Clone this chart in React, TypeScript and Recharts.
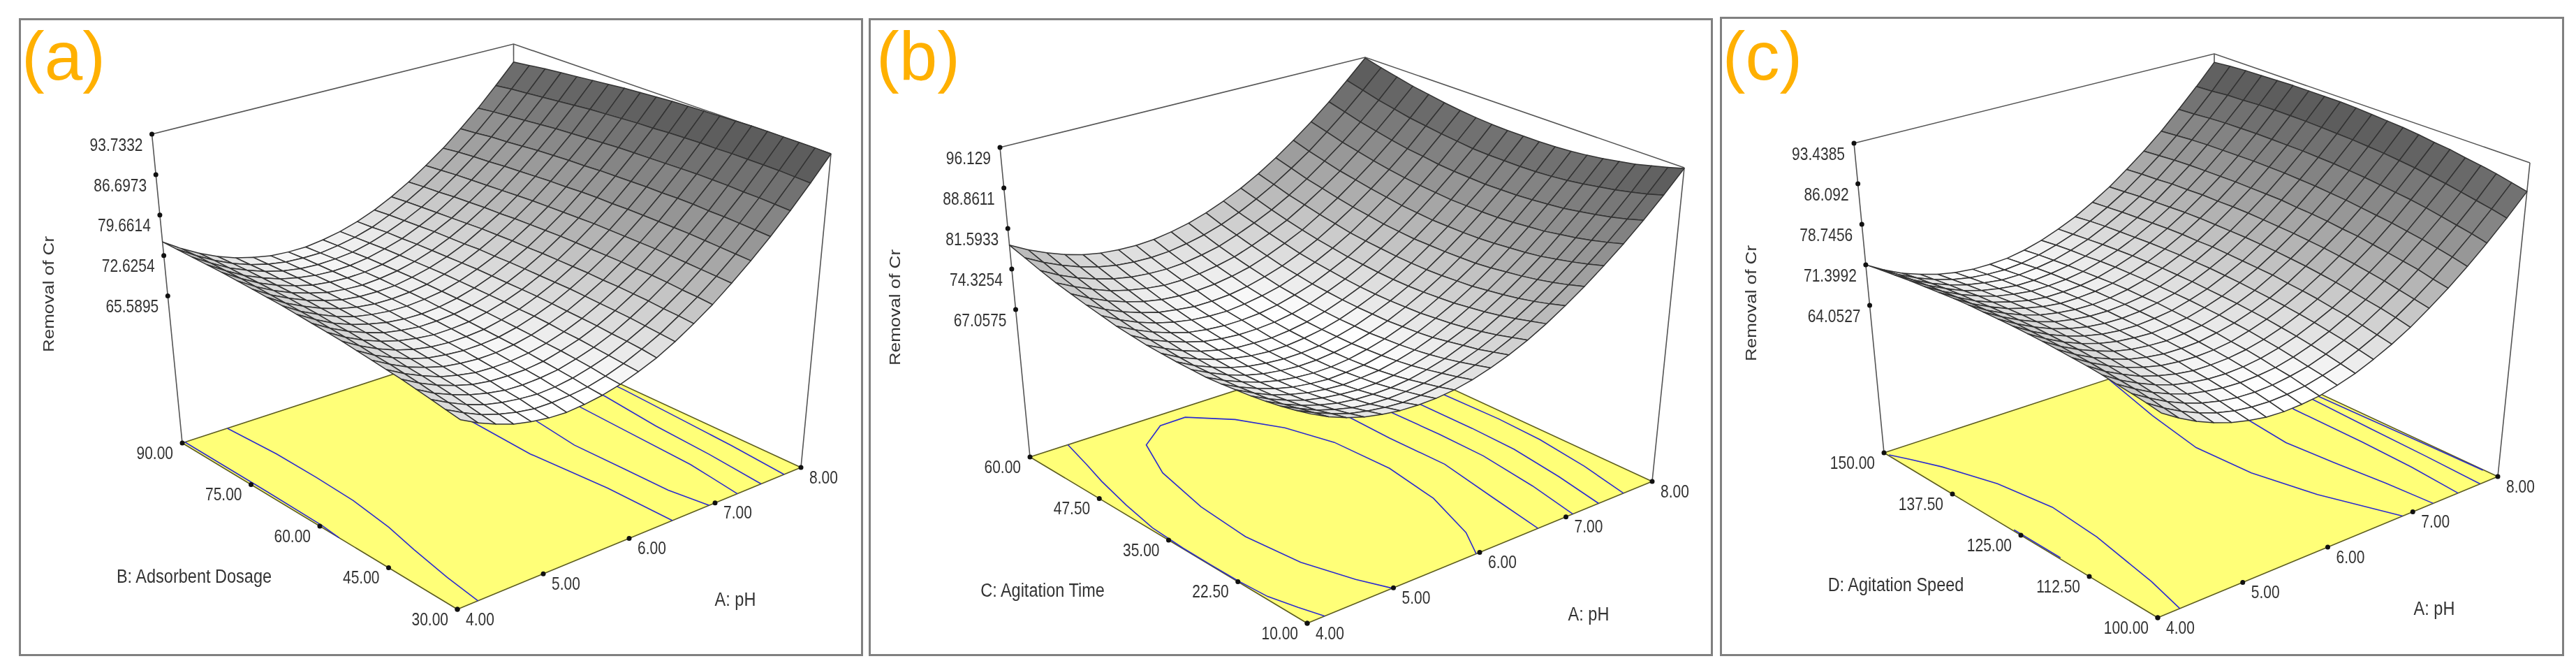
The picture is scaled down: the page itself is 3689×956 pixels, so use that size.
import { Fragment } from "react";
import { Scatter, ScatterChart, XAxis, YAxis } from "recharts";

const PAGE_W = 3689;
const PAGE_H = 956;

const phTicks = ["4.00", "5.00", "6.00", "7.00", "8.00"];
const dosageTicks = ["30.00", "45.00", "60.00", "75.00", "90.00"];
const timeTicks = ["10.00", "22.50", "35.00", "47.50", "60.00"];
const speedTicks = ["100.00", "112.50", "125.00", "137.50", "150.00"];
const removalTicksA = ["65.5895", "72.6254", "79.6614", "86.6973", "93.7332"];
const removalTicksB = ["67.0575", "74.3254", "81.5933", "88.8611", "96.129"];
const removalTicksC = ["64.0527", "71.3992", "78.7456", "86.092", "93.4385"];

// rows = factor low -> high, columns = pH 4 -> 8
const removalA = [
  [71.0,69.4,68.1,67.0,66.3,65.8,65.6,65.8,66.2,66.9,67.9,69.1,70.7,72.6,74.7,77.2,79.9,82.9,86.2,89.8,93.7],
  [71.4,69.8,68.4,67.4,66.6,66.1,66.0,66.1,66.4,67.1,68.1,69.4,70.9,72.8,74.9,77.3,80.0,83.0,86.3,89.9,93.8],
  [71.8,70.2,68.8,67.7,67.0,66.5,66.2,66.3,66.7,67.4,68.3,69.6,71.1,72.9,75.0,77.4,80.1,83.1,86.4,90.0,93.8],
  [72.2,70.5,69.2,68.1,67.3,66.7,66.5,66.6,66.9,67.6,68.5,69.7,71.3,73.1,75.2,77.5,80.2,83.2,86.4,90.0,93.8],
  [72.6,70.9,69.5,68.4,67.5,67.0,66.8,66.8,67.1,67.8,68.7,69.9,71.4,73.2,75.3,77.6,80.3,83.2,86.5,90.0,93.8],
  [72.9,71.2,69.8,68.6,67.8,67.2,67.0,67.0,67.3,67.9,68.8,70.0,71.5,73.3,75.3,77.7,80.3,83.3,86.5,90.0,93.8],
  [73.2,71.5,70.0,68.9,68.0,67.5,67.2,67.2,67.5,68.1,69.0,70.1,71.6,73.3,75.4,77.7,80.3,83.3,86.5,89.9,93.7],
  [73.5,71.7,70.3,69.1,68.2,67.7,67.4,67.4,67.6,68.2,69.1,70.2,71.7,73.4,75.4,77.7,80.3,83.2,86.4,89.9,93.6],
  [73.8,72.0,70.5,69.3,68.4,67.8,67.5,67.5,67.7,68.3,69.1,70.3,71.7,73.4,75.4,77.7,80.3,83.2,86.3,89.8,93.5],
  [74.0,72.2,70.7,69.5,68.6,68.0,67.6,67.6,67.8,68.4,69.2,70.3,71.7,73.4,75.4,77.7,80.2,83.1,86.2,89.7,93.4],
  [74.2,72.4,70.9,69.7,68.7,68.1,67.7,67.7,67.9,68.4,69.2,70.3,71.7,73.4,75.4,77.6,80.2,83.0,86.1,89.5,93.3],
  [74.4,72.6,71.0,69.8,68.9,68.2,67.8,67.7,67.9,68.4,69.2,70.3,71.7,73.3,75.3,77.5,80.1,82.9,86.0,89.4,93.1],
  [74.6,72.7,71.2,69.9,68.9,68.3,67.9,67.8,68.0,68.4,69.2,70.3,71.6,73.3,75.2,77.4,79.9,82.7,85.8,89.2,92.9],
  [74.7,72.8,71.3,70.0,69.0,68.3,67.9,67.8,68.0,68.4,69.2,70.2,71.6,73.2,75.1,77.3,79.8,82.6,85.6,89.0,92.7],
  [74.8,72.9,71.4,70.1,69.1,68.3,67.9,67.8,67.9,68.4,69.1,70.1,71.4,73.1,74.9,77.1,79.6,82.4,85.4,88.8,92.4],
  [74.9,73.0,71.4,70.1,69.1,68.3,67.9,67.7,67.9,68.3,69.0,70.0,71.3,72.9,74.8,76.9,79.4,82.2,85.2,88.5,92.1],
  [75.0,73.1,71.4,70.1,69.1,68.3,67.9,67.7,67.8,68.2,68.9,69.9,71.2,72.7,74.6,76.7,79.2,81.9,84.9,88.2,91.8],
  [75.0,73.1,71.4,70.1,69.0,68.3,67.8,67.6,67.7,68.1,68.8,69.7,71.0,72.5,74.4,76.5,78.9,81.6,84.6,87.9,91.5],
  [75.0,73.1,71.4,70.1,69.0,68.2,67.7,67.5,67.6,67.9,68.6,69.6,70.8,72.3,74.1,76.3,78.7,81.4,84.3,87.6,91.2],
  [75.0,73.1,71.4,70.0,68.9,68.1,67.6,67.4,67.4,67.8,68.4,69.3,70.6,72.1,73.9,76.0,78.4,81.0,84.0,87.3,90.8],
  [75.0,73.0,71.3,69.9,68.8,68.0,67.4,67.2,67.2,67.6,68.2,69.1,70.3,71.8,73.6,75.7,78.0,80.7,83.6,86.9,90.4],
];

const removalB = [
  [76.0,74.4,73.1,72.1,71.4,70.9,70.7,70.7,71.0,71.6,72.5,73.6,75.0,76.7,78.7,80.9,83.4,86.1,89.1,92.4,96.0],
  [75.3,73.8,72.5,71.4,70.7,70.2,69.9,70.0,70.3,70.9,71.8,72.9,74.3,76.0,77.9,80.1,82.6,85.3,88.3,91.6,95.2],
  [74.7,73.2,71.8,70.8,70.0,69.5,69.3,69.4,69.7,70.3,71.1,72.2,73.6,75.3,77.2,79.4,81.9,84.6,87.6,90.9,94.5],
  [74.2,72.6,71.3,70.3,69.5,69.0,68.8,68.8,69.1,69.7,70.5,71.7,73.0,74.7,76.6,78.8,81.3,84.0,87.0,90.3,93.8],
  [73.8,72.2,70.9,69.8,69.1,68.6,68.3,68.3,68.6,69.2,70.0,71.2,72.5,74.2,76.1,78.3,80.7,83.5,86.5,89.8,93.3],
  [73.5,71.9,70.5,69.5,68.7,68.2,67.9,68.0,68.2,68.8,69.6,70.7,72.1,73.8,75.7,77.9,80.3,83.0,86.0,89.3,92.8],
  [73.2,71.6,70.3,69.2,68.4,67.9,67.6,67.7,67.9,68.5,69.3,70.4,71.8,73.4,75.3,77.5,80.0,82.7,85.7,88.9,92.4],
  [73.0,71.4,70.1,69.0,68.2,67.7,67.4,67.4,67.7,68.3,69.1,70.2,71.5,73.2,75.1,77.2,79.7,82.4,85.4,88.6,92.1],
  [73.0,71.4,70.0,68.9,68.1,67.6,67.3,67.3,67.6,68.1,68.9,70.0,71.4,73.0,74.9,77.1,79.5,82.2,85.2,88.4,91.9],
  [73.0,71.3,70.0,68.9,68.1,67.6,67.3,67.3,67.5,68.1,68.9,70.0,71.3,72.9,74.8,77.0,79.4,82.1,85.1,88.3,91.8],
  [73.1,71.4,70.1,69.0,68.2,67.6,67.3,67.3,67.6,68.1,68.9,70.0,71.3,72.9,74.8,77.0,79.4,82.1,85.0,88.3,91.8],
  [73.2,71.6,70.2,69.1,68.3,67.7,67.5,67.4,67.7,68.2,69.0,70.1,71.4,73.0,74.9,77.0,79.4,82.1,85.1,88.3,91.8],
  [73.5,71.8,70.5,69.4,68.5,68.0,67.7,67.7,67.9,68.4,69.2,70.3,71.6,73.2,75.1,77.2,79.6,82.3,85.2,88.4,91.9],
  [73.8,72.2,70.8,69.7,68.8,68.3,68.0,68.0,68.2,68.7,69.5,70.5,71.9,73.4,75.3,77.4,79.8,82.5,85.4,88.7,92.1],
  [74.3,72.6,71.2,70.1,69.3,68.7,68.4,68.3,68.6,69.1,69.8,70.9,72.2,73.8,75.6,77.8,80.2,82.8,85.8,89.0,92.4],
  [74.8,73.1,71.7,70.6,69.7,69.2,68.8,68.8,69.0,69.5,70.3,71.3,72.6,74.2,76.1,78.2,80.6,83.2,86.1,89.4,92.8],
  [75.4,73.7,72.3,71.2,70.3,69.7,69.4,69.4,69.6,70.1,70.8,71.9,73.2,74.7,76.6,78.7,81.1,83.7,86.6,89.8,93.3],
  [76.0,74.4,73.0,71.8,71.0,70.4,70.0,70.0,70.2,70.7,71.4,72.5,73.8,75.3,77.2,79.3,81.6,84.3,87.2,90.4,93.8],
  [76.8,75.1,73.7,72.6,71.7,71.1,70.8,70.7,70.9,71.4,72.1,73.2,74.5,76.0,77.8,79.9,82.3,84.9,87.8,91.0,94.5],
  [77.7,76.0,74.6,73.4,72.5,71.9,71.6,71.5,71.7,72.2,72.9,73.9,75.2,76.8,78.6,80.7,83.0,85.7,88.6,91.8,95.2],
  [78.6,76.9,75.5,74.3,73.4,72.8,72.5,72.4,72.6,73.1,73.8,74.8,76.1,77.6,79.4,81.5,83.9,86.5,89.4,92.6,96.0],
];

const removalC = [
  [72.3,70.3,68.6,67.2,66.1,65.3,64.7,64.5,64.6,64.9,65.6,66.5,67.8,69.3,71.1,73.3,75.7,78.4,81.4,84.7,88.3],
  [72.7,70.7,69.0,67.6,66.5,65.7,65.2,65.0,65.1,65.4,66.1,67.0,68.3,69.8,71.7,73.8,76.2,79.0,82.0,85.3,88.9],
  [73.0,71.1,69.4,68.0,66.9,66.1,65.6,65.4,65.5,65.9,66.5,67.5,68.8,70.3,72.2,74.3,76.8,79.5,82.5,85.8,89.5],
  [73.3,71.4,69.7,68.3,67.2,66.5,66.0,65.8,65.9,66.2,66.9,67.9,69.2,70.8,72.6,74.8,77.2,80.0,83.0,86.3,90.0],
  [73.6,71.6,70.0,68.6,67.5,66.8,66.3,66.1,66.2,66.6,67.3,68.3,69.6,71.1,73.0,75.2,77.6,80.4,83.5,86.8,90.4],
  [73.8,71.8,70.2,68.8,67.8,67.0,66.5,66.4,66.5,66.9,67.6,68.6,69.9,71.5,73.4,75.6,78.0,80.8,83.9,87.2,90.9],
  [73.9,72.0,70.4,69.0,68.0,67.2,66.8,66.6,66.7,67.1,67.9,68.9,70.2,71.8,73.7,75.9,78.4,81.1,84.2,87.6,91.2],
  [74.0,72.1,70.5,69.2,68.1,67.4,66.9,66.8,66.9,67.4,68.1,69.1,70.4,72.0,74.0,76.2,78.6,81.4,84.5,87.9,91.6],
  [74.1,72.2,70.6,69.3,68.2,67.5,67.1,66.9,67.1,67.5,68.3,69.3,70.6,72.3,74.2,76.4,78.9,81.7,84.8,88.2,91.9],
  [74.1,72.2,70.6,69.3,68.3,67.6,67.2,67.0,67.2,67.6,68.4,69.4,70.8,72.4,74.4,76.6,79.1,81.9,85.0,88.4,92.1],
  [74.1,72.2,70.6,69.3,68.3,67.6,67.2,67.1,67.3,67.7,68.5,69.5,70.9,72.5,74.5,76.7,79.2,82.1,85.2,88.6,92.3],
  [74.0,72.2,70.6,69.3,68.3,67.6,67.2,67.1,67.3,67.8,68.5,69.6,71.0,72.6,74.6,76.8,79.4,82.2,85.3,88.7,92.5],
  [73.9,72.1,70.5,69.2,68.2,67.6,67.2,67.1,67.3,67.7,68.5,69.6,71.0,72.7,74.6,76.9,79.4,82.3,85.4,88.8,92.6],
  [73.8,71.9,70.4,69.1,68.1,67.5,67.1,67.0,67.2,67.7,68.5,69.6,71.0,72.6,74.6,76.9,79.4,82.3,85.4,88.9,92.6],
  [73.6,71.7,70.2,68.9,68.0,67.3,66.9,66.9,67.1,67.6,68.4,69.5,70.9,72.6,74.6,76.8,79.4,82.3,85.4,88.9,92.6],
  [73.3,71.5,69.9,68.7,67.8,67.1,66.7,66.7,66.9,67.4,68.3,69.4,70.8,72.5,74.5,76.8,79.3,82.2,85.4,88.9,92.6],
  [73.0,71.2,69.7,68.5,67.5,66.9,66.5,66.5,66.7,67.2,68.1,69.2,70.6,72.3,74.3,76.6,79.2,82.1,85.3,88.8,92.5],
  [72.7,70.9,69.4,68.1,67.2,66.6,66.2,66.2,66.5,67.0,67.8,69.0,70.4,72.1,74.1,76.5,79.1,82.0,85.2,88.6,92.4],
  [72.3,70.5,69.0,67.8,66.9,66.3,65.9,65.9,66.2,66.7,67.6,68.7,70.2,71.9,73.9,76.2,78.9,81.8,85.0,88.5,92.3],
  [71.9,70.1,68.6,67.4,66.5,65.9,65.6,65.5,65.8,66.4,67.3,68.4,69.9,71.6,73.6,76.0,78.6,81.5,84.7,88.2,92.1],
  [71.4,69.6,68.1,67.0,66.1,65.5,65.2,65.2,65.4,66.0,66.9,68.1,69.5,71.3,73.3,75.7,78.3,81.2,84.5,88.0,91.8],
];

// contour lines on the floor as [pH fraction, factor fraction]
const contoursA = [
  [[0.008, 1], [0.008, 0.7], [0.006, 0.5], [0, 0.43]],
  [[0.136, 1], [0.146, 0.835], [0.145, 0.69], [0.14, 0.55], [0.122, 0.4], [0.099, 0.28], [0.075, 0.13], [0.06, 0]],
  [[0.64, 1], [0.614, 0.763], [0.604, 0.477], [0.623, 0.226], [0.626, 0]],
  [[0.76, 1], [0.728, 0.615], [0.709, 0.447], [0.713, 0.276], [0.716, 0.124], [0.733, 0]],
  [[0.86, 1], [0.85, 0.6], [0.844, 0.432], [0.836, 0.19], [0.815, 0]],
  [[0.94, 1], [0.93, 0.6], [0.91, 0.4], [0.9, 0.2], [0.884, 0]],
  [[0.99, 1], [0.985, 0.6], [0.975, 0.4], [0.965, 0.2], [0.951, 0]],
];

const contoursB = [
  [[0.113, 1], [0.085, 0.9], [0.059, 0.813], [0.03, 0.69], [0.008, 0.568], [0.002, 0.45], [0.002, 0.35], [0.003, 0.25], [0.009, 0.154], [0.03, 0.07], [0.051, 0]],
  [[0.247, 0], [0.211, 0.087], [0.168, 0.231], [0.149, 0.406], [0.162, 0.581], [0.2, 0.765], [0.261, 0.897], [0.352, 0.956], [0.427, 0.957], [0.511, 0.88], [0.572, 0.777], [0.61, 0.647], [0.618, 0.462], [0.594, 0.278], [0.539, 0.096], [0.49, 0]],
  [[0.69, 1], [0.715, 0.88], [0.723, 0.743], [0.72, 0.584], [0.725, 0.396], [0.694, 0.185], [0.669, 0]],
  [[0.79, 1], [0.81, 0.75], [0.818, 0.526], [0.817, 0.371], [0.797, 0.174], [0.77, 0]],
  [[0.87, 1], [0.89, 0.7], [0.893, 0.5], [0.89, 0.35], [0.87, 0.17], [0.845, 0]],
  [[0.94, 1], [0.965, 0.7], [0.97, 0.5], [0.965, 0.35], [0.945, 0.17], [0.917, 0]],
];

const contoursC = [
  [[0.003, 0.985], [0.03, 0.94], [0.067, 0.869], [0.118, 0.729], [0.145, 0.562], [0.133, 0.386], [0.095, 0.14], [0.065, 0]],
  [[0.004, 0.53], [0.004, 0.36]],
  [[0.68, 1], [0.63, 0.785], [0.598, 0.59], [0.609, 0.406], [0.65, 0.219], [0.72, 0]],
  [[0.84, 1], [0.8, 0.8], [0.787, 0.656], [0.77, 0.475], [0.783, 0.32], [0.8, 0.156], [0.81, 0]],
  [[0.95, 1], [0.93, 0.8], [0.9, 0.6], [0.9, 0.36], [0.895, 0.18], [0.883, 0]],
  [[0.98, 1], [0.97, 0.7], [0.96, 0.4], [0.955, 0.2], [0.948, 0]],
  [[0.995, 1], [0.985, 0.8], [0.99, 0.5], [0.995, 0.24], [0.998, 0.05]],
];

const panels = [
  {
    name: "(a)",
    box: { left: 27, top: 26, right: 1236, bottom: 939 },
    nameX: 91,
    floor: { front: [655, 872], right: [1147, 669], back: [736, 479], left: [261, 634] },
    ceil: { front: [663, 402], right: [1190, 220], back: [735.5, 63], left: [217.5, 192] },
    zFloor: 40,
    zTop: 93.7332,
    surface: removalA,
    contours: contoursA,
    factorTicks: dosageTicks,
    zTicks: removalTicksA,
    factorTitle: "B: Adsorbent Dosage",
    factorTitlePos: [278, 824],
    phTitlePos: [1053, 857],
    zTitlePos: [69, 421],
  },
  {
    name: "(b)",
    box: { left: 1244, top: 26, right: 2453, bottom: 939 },
    nameX: 1315,
    floor: { front: [1872, 892], right: [2366, 689], back: [1955, 499], left: [1475, 654] },
    ceil: { front: [1880, 422], right: [2412, 240], back: [1955, 82], left: [1432, 211] },
    zFloor: 40.6,
    zTop: 96.129,
    surface: removalB,
    contours: contoursB,
    factorTicks: timeTicks,
    zTicks: removalTicksB,
    factorTitle: "C: Agitation Time",
    factorTitlePos: [1493, 844],
    phTitlePos: [2275, 878],
    zTitlePos: [1281, 440],
  },
  {
    name: "(c)",
    box: { left: 2463, top: 24, right: 3672, bottom: 939 },
    nameX: 2524,
    floor: { front: [3090, 884], right: [3577, 682], back: [3171, 493], left: [2698, 648] },
    ceil: { front: [3098, 414], right: [3623, 233], back: [3171, 77], left: [2655, 205] },
    zFloor: 37.3,
    zTop: 93.4385,
    surface: removalC,
    contours: contoursC,
    factorTicks: speedTicks,
    zTicks: removalTicksC,
    factorTitle: "D: Agitation Speed",
    factorTitlePos: [2715, 836],
    phTitlePos: [3486, 870],
    zTitlePos: [2507, 434],
  },
];

type Panel = (typeof panels)[number];

// floor and ceiling are bilinear over their four corners, heights lerp between them
function project(p: Panel, u: number, v: number, z: number) {
  const t = (z - p.zFloor) / (p.zTop - p.zFloor);
  const plane = (q: Panel["floor"], k: number) =>
    (1 - u) * (1 - v) * q.front[k] + u * (1 - v) * q.right[k] + u * v * q.back[k] + (1 - u) * v * q.left[k];
  return {
    x: plane(p.floor, 0) + t * (plane(p.ceil, 0) - plane(p.floor, 0)),
    y: plane(p.floor, 1) + t * (plane(p.ceil, 1) - plane(p.floor, 1)),
  };
}

function polygonDatum(corners: { x: number; y: number }[], fill: string) {
  const x = corners.reduce((s, c) => s + c.x, 0) / corners.length;
  const y = corners.reduce((s, c) => s + c.y, 0) / corners.length;
  return { x, y, fill, offsets: corners.map((c) => [c.x - x, c.y - y]) };
}

function surfaceCells(p: Panel) {
  const grid = p.surface;
  const n = grid.length - 1;
  const flat = grid.flat();
  const lo = Math.min(...flat);
  const hi = Math.max(...flat);
  const cells = [];
  for (let j = n - 1; j >= 0; j--) {
    for (let i = n - 1; i >= 0; i--) {
      const mean = (grid[j][i] + grid[j][i + 1] + grid[j + 1][i] + grid[j + 1][i + 1]) / 4;
      const f = Math.max(0, ((mean - lo) / (hi - lo) - 0.04) / 0.96);
      const shade = Math.round(255 - 172 * Math.pow(f, 0.82));
      cells.push(
        polygonDatum(
          [
            project(p, i / n, j / n, grid[j][i]),
            project(p, (i + 1) / n, j / n, grid[j][i + 1]),
            project(p, (i + 1) / n, (j + 1) / n, grid[j + 1][i + 1]),
            project(p, i / n, (j + 1) / n, grid[j + 1][i]),
          ],
          `rgb(${shade},${shade},${shade})`,
        ),
      );
    }
  }
  return cells;
}

const PolygonMark = (props: any) => {
  const { cx, cy, payload, stroke, strokeWidth } = props;
  const points = payload.offsets.map((o: number[]) => `${cx + o[0]},${cy + o[1]}`).join(" ");
  return <polygon points={points} fill={payload.fill} stroke={stroke} strokeWidth={strokeWidth} strokeLinejoin="round" />;
};

const Dot = ({ cx, cy }: any) => <circle cx={cx} cy={cy} r={3.5} fill="#111" />;

const NoMark = () => <g />;

const TextMark = ({ cx, cy, payload }: any) => (
  <text
    transform={`translate(${cx + (payload.dx ?? 0)} ${cy + (payload.dy ?? 0)}) rotate(${payload.rotate ?? 0}) scale(${payload.sx ?? 0.84} ${payload.sy ?? 1})`}
    textAnchor={payload.anchor ?? "middle"}
    dominantBaseline="central"
    fontFamily="'Liberation Sans', Arial, sans-serif"
    fontSize={payload.size ?? 25}
    fill={payload.color ?? "#333"}
  >
    {payload.text}
  </text>
);

const frameLine = (key: string, pts: { x: number; y: number }[], stroke = "#555", strokeWidth = 1.6) => (
  <Scatter key={key} data={pts} line={{ stroke, strokeWidth }} shape={NoMark} isAnimationActive={false} />
);

function renderPanel(p: Panel) {
  const frac = [0, 0.25, 0.5, 0.75, 1];
  const zOf = (s: string) => parseFloat(s);
  const phDots = frac.map((f) => project(p, f, 0, p.zFloor));
  const factorDots = frac.map((f) => project(p, 0, f, p.zFloor));
  const zDots = p.zTicks.map((s) => project(p, 0, 1, zOf(s)));
  const labels = [
    ...phDots.map((d, i) => ({ ...d, text: phTicks[i], anchor: "start", dx: 12, dy: 14 })),
    ...factorDots.map((d, i) => ({ ...d, text: p.factorTicks[i], anchor: "end", dx: -13, dy: 14 })),
    ...zDots.map((d, i) => ({ ...d, text: p.zTicks[i], anchor: "end", dx: -13, dy: 15 })),
    { x: p.factorTitlePos[0], y: p.factorTitlePos[1], text: p.factorTitle, size: 28 },
    { x: p.phTitlePos[0], y: p.phTitlePos[1], text: "A: pH", size: 28 },
    { x: p.zTitlePos[0], y: p.zTitlePos[1], text: "Removal of Cr", rotate: -90, sx: 1, sy: 0.84, size: 26 },
    { x: p.nameX, y: 80, text: p.name, size: 98, sx: 1, color: "#FFB000" },
  ];
  const topLeft = project(p, 0, 1, p.zTop);
  const topBack = project(p, 1, 1, p.zTop);
  const topRight = project(p, 1, 0, p.zTop);
  const floorCorners = [
    project(p, 0, 0, p.zFloor),
    project(p, 1, 0, p.zFloor),
    project(p, 1, 1, p.zFloor),
    project(p, 0, 1, p.zFloor),
  ];
  return (
    <Fragment key={p.name}>
      <Scatter data={[polygonDatum(floorCorners, "#FFFF78")]} shape={(s: any) => <PolygonMark {...s} stroke="#5c5c20" strokeWidth={1.6} />} isAnimationActive={false} />
      {p.contours.map((c, i) =>
        frameLine(
          `${p.name}-contour-${i}`,
          c.map(([u, v]) => project(p, u, v, p.zFloor)),
          "#2a2ad0",
          1.6,
        ),
      )}
      {frameLine(`${p.name}-top`, [topLeft, topBack, topRight])}
      {frameLine(`${p.name}-vl`, [topLeft, floorCorners[3]])}
      {frameLine(`${p.name}-vb`, [topBack, floorCorners[2]])}
      {frameLine(`${p.name}-vr`, [topRight, floorCorners[1]])}
      <Scatter data={surfaceCells(p)} shape={(s: any) => <PolygonMark {...s} stroke="#333" strokeWidth={1.5} />} isAnimationActive={false} />
      <Scatter data={[...phDots, ...factorDots, ...zDots]} shape={Dot} isAnimationActive={false} />
      <Scatter data={labels} shape={TextMark} isAnimationActive={false} />
    </Fragment>
  );
}

export default function App() {
  return (
    <div style={{ position: "absolute", left: 0, top: 0, width: PAGE_W, height: PAGE_H, background: "#fff", filter: "blur(0.6px)" }}>
      {panels.map((p) => (
        <div
          key={p.name}
          style={{
            position: "absolute",
            left: p.box.left,
            top: p.box.top,
            width: p.box.right - p.box.left,
            height: p.box.bottom - p.box.top,
            border: "3px solid #808080",
            boxSizing: "border-box",
          }}
        />
      ))}
      <div style={{ position: "absolute", left: 0, top: 0 }}>
        <ScatterChart width={PAGE_W} height={PAGE_H} margin={{ top: 0, right: 0, bottom: 0, left: 0 }}>
          <XAxis type="number" dataKey="x" domain={[0, PAGE_W]} hide />
          <YAxis type="number" dataKey="y" domain={[0, PAGE_H]} reversed hide />
          {panels.map(renderPanel)}
        </ScatterChart>
      </div>
    </div>
  );
}
